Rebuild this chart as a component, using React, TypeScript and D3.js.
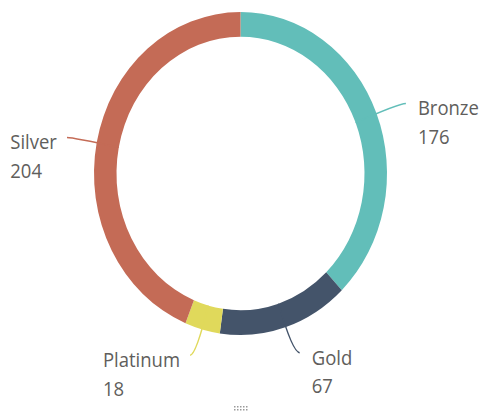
import React, { useEffect, useRef } from "react";
import * as d3 from "d3";

const categories = ["Bronze", "Gold", "Platinum", "Silver"];
const values = [176, 67, 18, 204];
const colors = ["#62BEB9", "#44546A", "#E0D95B", "#C46B56"];

const W = 484;
const H = 413;
const CX = 240.5;
const CY = 173.5;
const RX = 146.5;
const RY = 161.5;
const THICK = 22.5;
const FONT = "'Segoe UI', 'Open Sans', sans-serif";
const FS = 18.5;
const TEXT_COLOR = "#605E5C";

export default function App() {
  const ref = useRef<SVGSVGElement>(null);

  useEffect(() => {
    const svg = d3.select(ref.current);
    svg.selectAll("*").remove();
    const sy = RY / RX;
    const pie = d3.pie<number>().sort(null).value((d) => d);
    const arcs = pie(values);
    const arc = d3.arc<d3.PieArcDatum<number>>().innerRadius(RX - THICK).outerRadius(RX);

    const g = svg.append("g").attr("transform", `translate(${CX},${CY}) scale(1,${sy})`);
    g.selectAll("path.slice")
      .data(arcs)
      .enter()
      .append("path")
      .attr("class", "slice")
      .attr("d", arc as any)
      .attr("fill", (_d, i) => colors[i]);

    // leader lines & labels in pixel space
    const pt = (a: number, rx: number, ry: number) => [CX + rx * Math.sin(a), CY - ry * Math.cos(a)];
    const rin = RX - THICK;
    arcs.forEach((d, i) => {
      const mid = (d.startAngle + d.endAngle) / 2;
      const [x0, y0] = pt(mid, rin, rin * sy);
      const k = 1.165;
      const [ex, ey] = pt(mid, RX * k, RY * k);
      const right = Math.sin(mid) >= 0;
      const x1 = ex + (right ? 7 : -6);
      const y1 = ey;
      const path = d3.path();
      path.moveTo(x0, y0);
      path.quadraticCurveTo(ex, ey, x1, y1);
      svg
        .append("path")
        .attr("d", path.toString())
        .attr("fill", "none")
        .attr("stroke", colors[i])
        .attr("stroke-width", 1.5);

      const tg = svg.append("g");
      const t1 = tg
        .append("text")
        .attr("font-family", FONT)
        .attr("font-size", FS)
        .attr("fill", TEXT_COLOR)
        .attr("transform", `translate(0,12) scale(1,1.1)`)
        .text(categories[i]);
      tg.append("text")
        .attr("font-family", FONT)
        .attr("font-size", FS)
        .attr("fill", TEXT_COLOR)
        .attr("transform", `translate(0,40.5) scale(1,1.1)`)
        .text(String(values[i]));
      const bw = (tg.node() as SVGGElement).getBBox().width;
      const tx = right ? x1 + 12 : x1 - 10 - bw;
      tg.attr("transform", `translate(${tx},${y1})`);
      void t1;
    });

    // resize grip
    const grip = svg.append("g").attr("fill", "#9a9a9a");
    for (let r = 0; r < 2; r++) {
      for (let c = 0; c < 5; c++) {
        grip
          .append("rect")
          .attr("x", 234 + c * 3)
          .attr("y", 406 + r * 3)
          .attr("width", 1.5)
          .attr("height", 1.5);
      }
    }
  }, []);

  return (
    <svg
      ref={ref}
      width={W}
      height={H}
      style={{ position: "absolute", left: 0, top: 0, background: "#fff" }}
    />
  );
}
